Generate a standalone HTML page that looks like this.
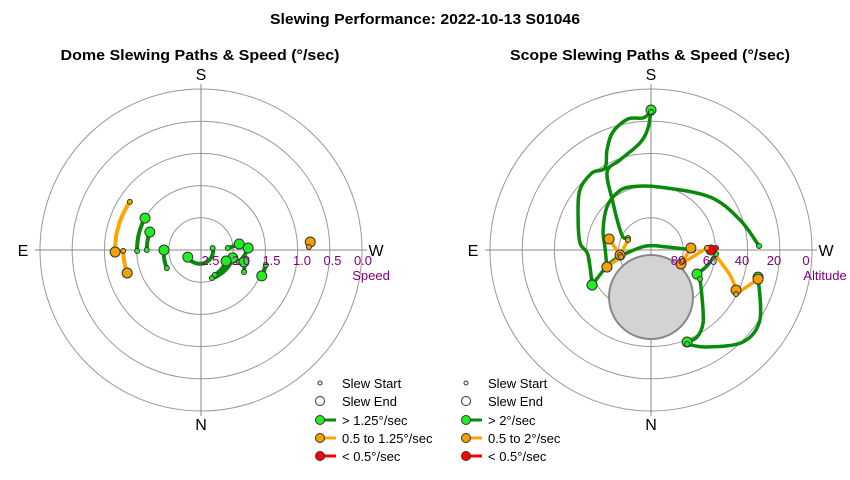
<!DOCTYPE html>
<html><head><meta charset="utf-8"><style>
body{margin:0;background:#fff}
svg{display:block;font-family:"Liberation Sans",Arial,sans-serif}
</style></head><body>
<svg id="root" width="850" height="480" viewBox="0 0 850 480">
<rect width="850" height="480" fill="#fff"/>
<text x="425" y="24" text-anchor="middle" font-size="15" font-weight="bold" textLength="310" lengthAdjust="spacingAndGlyphs">Slewing Performance: 2022-10-13 S01046</text>
<text x="200" y="60" text-anchor="middle" font-size="15" font-weight="bold" textLength="279" lengthAdjust="spacingAndGlyphs">Dome Slewing Paths &amp; Speed (°/sec)</text>
<text x="650" y="60" text-anchor="middle" font-size="15" font-weight="bold" textLength="280" lengthAdjust="spacingAndGlyphs">Scope Slewing Paths &amp; Speed (°/sec)</text>
<g id="dome"></g>
<g id="scope"></g>
<g id="legends"></g>
</svg>
<script>
// ---- Dome data: each slew [startAz, endAz, startSpeed, endSpeed]
const domeColors = ["orange","orange","green","green","green","green","green","green","green","green","green","green","orange"];
const domeStartAz = [124.1, 89.3, 89.1, 90, 62.1, 260.5, 265.8, 287.5, 297, 338.6, 330.8, 283, 268.4];
const domeEndAz   = [88.7, 72.7, 119.7, 109.4, 90, 61.7, 261, 267.6, 285.6, 284, 293.7, 293.1, 265.8];
const domeStartSpeed = [1.40, 1.55, 1.81, 1.99, 2.28, 2.78, 2.50, 2.26, 2.10, 2.44, 2.47, 1.76, 0.99];
const domeEndSpeed   = [1.40, 1.56, 1.80, 1.99, 2.31, 2.72, 2.28, 2.12, 2.17, 2.39, 2.49, 1.77, 0.96];
const speedTicks = ["2.5","2.0","1.5","1.0","0.5","0.0"];
const speedTickValues = [2.5, 2.0, 1.5, 1.0, 0.5, 0.0];
const altTicks = ["80","60","40","20","0"];
const altTickValues = [80, 60, 40, 20, 0];

// ---- Scope data: each slew color, azimuth list, altitude list
const scopeColors = ["green","green","green","green","green","green","green","orange","orange","red","orange","orange","orange","orange","orange"];
const scopeAz = [
 [117.6,114.9,129.3,141.1,150.6,161.0,174.1,178.6,180],
 [180,176.5,170,162.1,156.3,150.7,142.5,130.2,114.3,95.6,85.5,59.3],
 [267.9,251.4,228.1,188.1,161.6,149.2,134.3,112.6,93.7,68.9],
 [270,259.4,135,82.9,72.4,59.3],
 [273.5,286,297.6],
 [300.6,312.7,324.5,332.1,338.6],
 [339,330,315,302.7,284.2],
 [271.8,287.6,295.2],
 [297.4,285.2],
 [268.2,270],
 [268,295],
 [289,267.1],
 [113.5,80.8],
 [80.8,104.7],
 [76.9,68.9]
];
const scopeAlt = [
 [75.5,72.7,66.2,56.3,40.0,36.8,29.9,21.8,11.8],
 [12.9,16.1,15.7,20.7,28.9,37.5,35.8,38.0,45.3,50.2,54.7,51.7],
 [29.6,37.5,45.7,54.5,52.9,52.9,55.6,61.0,64.2,63.6],
 [66.5,80.9,86.8,76.5,66.0,51.7],
 [53.6,57.5,61.0],
 [58.2,51.2,39.9,35.0,34.8],
 [33.7,27.4,17.3,17.7,28.3],
 [55.4,43.7,37.5],
 [36.5,28.0],
 [53.7,56.5],
 [58.7,71.5],
 [71.1,67.7],
 [76,72.5],
 [72.5,65.8],
 [72.8,63.6]
];
const legendDome = ["Slew Start","Slew End","> 1.25°/sec","0.5 to 1.25°/sec","< 0.5°/sec"];
const legendScope = ["Slew Start","Slew End","> 2°/sec","0.5 to 2°/sec","< 0.5°/sec"];

const NS="http://www.w3.org/2000/svg";
const COL={green:"#0a8a0a",orange:"#ffa500",red:"#ff0000"};
const FILL={green:"#22ee22",orange:"#f5a000",red:"#ff0000"};
function mk(tag,attrs,parent){const e=document.createElementNS(NS,tag);for(const k in attrs)e.setAttribute(k,attrs[k]);parent.appendChild(e);return e;}

const dcx=201,dcy=250,scx=651,scy=250,R=161;
function speedR(s){return (3-s)*53.7;}
function altR(a){return (90-a)*1.79;}
function polar(cx,cy,az,r){const t=az*Math.PI/180;return [cx-r*Math.sin(t),cy+r*Math.cos(t)];}
function smoothPath(p){
  if(p.length<3)return "M"+p.map(q=>q[0].toFixed(1)+","+q[1].toFixed(1)).join(" L");
  let d="M"+p[0][0].toFixed(1)+","+p[0][1].toFixed(1);
  for(let i=0;i<p.length-1;i++){
    const p0=p[Math.max(0,i-1)],p1=p[i],p2=p[i+1],p3=p[Math.min(p.length-1,i+2)];
    const c1=[p1[0]+(p2[0]-p0[0])/6,p1[1]+(p2[1]-p0[1])/6];
    const c2=[p2[0]-(p3[0]-p1[0])/6,p2[1]-(p3[1]-p1[1])/6];
    d+=" C"+c1.map(v=>v.toFixed(1)).join(",")+" "+c2.map(v=>v.toFixed(1)).join(",")+" "+p2.map(v=>v.toFixed(1)).join(",");
  }
  return d;
}

function frame(g,cx,cy,name){
  for(let i=1;i<=5;i++){
    const c=mk("circle",{cx:cx,cy:cy,r:R*i/5,fill:"none",stroke:"#999","stroke-width":1},g);
    
    
  }
  const l1=mk("line",{x1:cx-R-5,y1:cy,x2:cx+R+5,y2:cy,stroke:"#888"},g);
  
  
  const l2=mk("line",{x1:cx,y1:cy-R-5,x2:cx,y2:cy+R+5,stroke:"#888"},g);
  
  
  const labs=[["S",cx,cy-170],["N",cx,cy+180],["E",cx-178,cy+6],["W",cx+175,cy+6]];
  labs.forEach(([t,x,y])=>{
    const e=mk("text",{x:x,y:y,"font-size":16,"text-anchor":"middle",fill:"#000"},g);
    e.textContent=t;
    
    
  });
}

function marker(g,x,y,big,color,name){
  const c=mk("circle",{cx:x,cy:y,r:big?5:2.5,fill:FILL[color],stroke:"#333","stroke-width":1},g);
  
  
}

// Dome chart
const dg=document.getElementById("dome");
frame(dg,dcx,dcy,"dome");
const dslews=mk("g",{},dg);


domeStartAz.forEach((a0,i)=>{
  let a1=domeEndAz[i];let d=a1-a0;if(d>180)d-=360;if(d<-180)d+=360;
  const pts=[];const n=24;
  for(let k=0;k<=n;k++){const f=k/n;const s=domeStartSpeed[i]+(domeEndSpeed[i]-domeStartSpeed[i])*f;pts.push(polar(dcx,dcy,a0+d*f,speedR(s)).map(v=>v.toFixed(1)).join(","));}
  const p=mk("polyline",{points:pts.join(" "),fill:"none",stroke:COL[domeColors[i]],"stroke-width":4,"stroke-linecap":"round"},dslews);
  
  
  const [sx,sy]=polar(dcx,dcy,a0,speedR(domeStartSpeed[i]));
  const [ex,ey]=polar(dcx,dcy,a1,speedR(domeEndSpeed[i]));
  marker(dslews,ex,ey,true,domeColors[i],'dome-slew-end');
  marker(dslews,sx,sy,false,domeColors[i],'dome-slew-start');
});
speedTicks.forEach((t,i)=>{
  const e=mk("text",{x:(dcx+161-speedTickValues[i]*61+1).toFixed(1),y:dcy+15,"font-size":13,"text-anchor":"middle",fill:"#800080"},dg);
  e.textContent=t;
  
  
});
{const e=mk("text",{x:371,y:280,"font-size":13,"text-anchor":"middle",fill:"#800080"},dg);e.textContent="Speed";

}

// Scope chart
const sg=document.getElementById("scope");
frame(sg,scx,scy,"scope");
{const c=mk("circle",{cx:651,cy:297,r:42,fill:"#d3d3d3",stroke:"#888","stroke-width":2},sg);

}
const sslews=mk("g",{},sg);


scopeAz.forEach((azs,i)=>{
  const pts=azs.map((a,k)=>polar(scx,scy,a,altR(scopeAlt[i][k])));
  const p=mk("path",{d:smoothPath(pts),fill:"none",stroke:COL[scopeColors[i]],"stroke-width":3.5,"stroke-linejoin":"round","stroke-linecap":"round"},sslews);
  
  
});
scopeAz.forEach((azs,i)=>{
  const pts=azs.map((a,k)=>polar(scx,scy,a,altR(scopeAlt[i][k])));
  const e=pts[pts.length-1],s=pts[0];
  marker(sslews,e[0],e[1],true,scopeColors[i],'scope-slew-end');
  marker(sslews,s[0],s[1],false,scopeColors[i],'scope-slew-start');
});
altTicks.forEach((t,i)=>{
  const e=mk("text",{x:(scx+(90-altTickValues[i])*1.6+11).toFixed(1),y:scy+15,"font-size":13,"text-anchor":"middle",fill:"#800080"},sg);
  e.textContent=t;
  
  
});
{const e=mk("text",{x:825,y:280,"font-size":13,"text-anchor":"middle",fill:"#800080"},sg);e.textContent="Altitude";

}

// Legends
const lg=document.getElementById("legends");
function legend(x0,labels,name){
  const ys=[383,401,420,438,456];
  labels.forEach((t,i)=>{
    const y=ys[i];
    const row=mk("g",{},lg);
    
    
    if(i===0){mk("circle",{cx:x0,cy:y,r:2,fill:"#fff",stroke:"#333"},row);}
    else if(i===1){mk("circle",{cx:x0,cy:y,r:4.5,fill:"#fff",stroke:"#333"},row);}
    else{const c=["green","orange","red"][i-2];
      mk("line",{x1:x0,y1:y,x2:x0+16,y2:y,stroke:COL[c],"stroke-width":3},row);
      mk("circle",{cx:x0,cy:y,r:4.5,fill:FILL[c],stroke:"#333"},row);}
    const e=mk("text",{x:x0+22,y:y+5,"font-size":13,fill:"#000"},row);
    e.textContent=t;
  });
}
legend(320,legendDome,"dome");
legend(466,legendScope,"scope");
</script>
</body></html>
